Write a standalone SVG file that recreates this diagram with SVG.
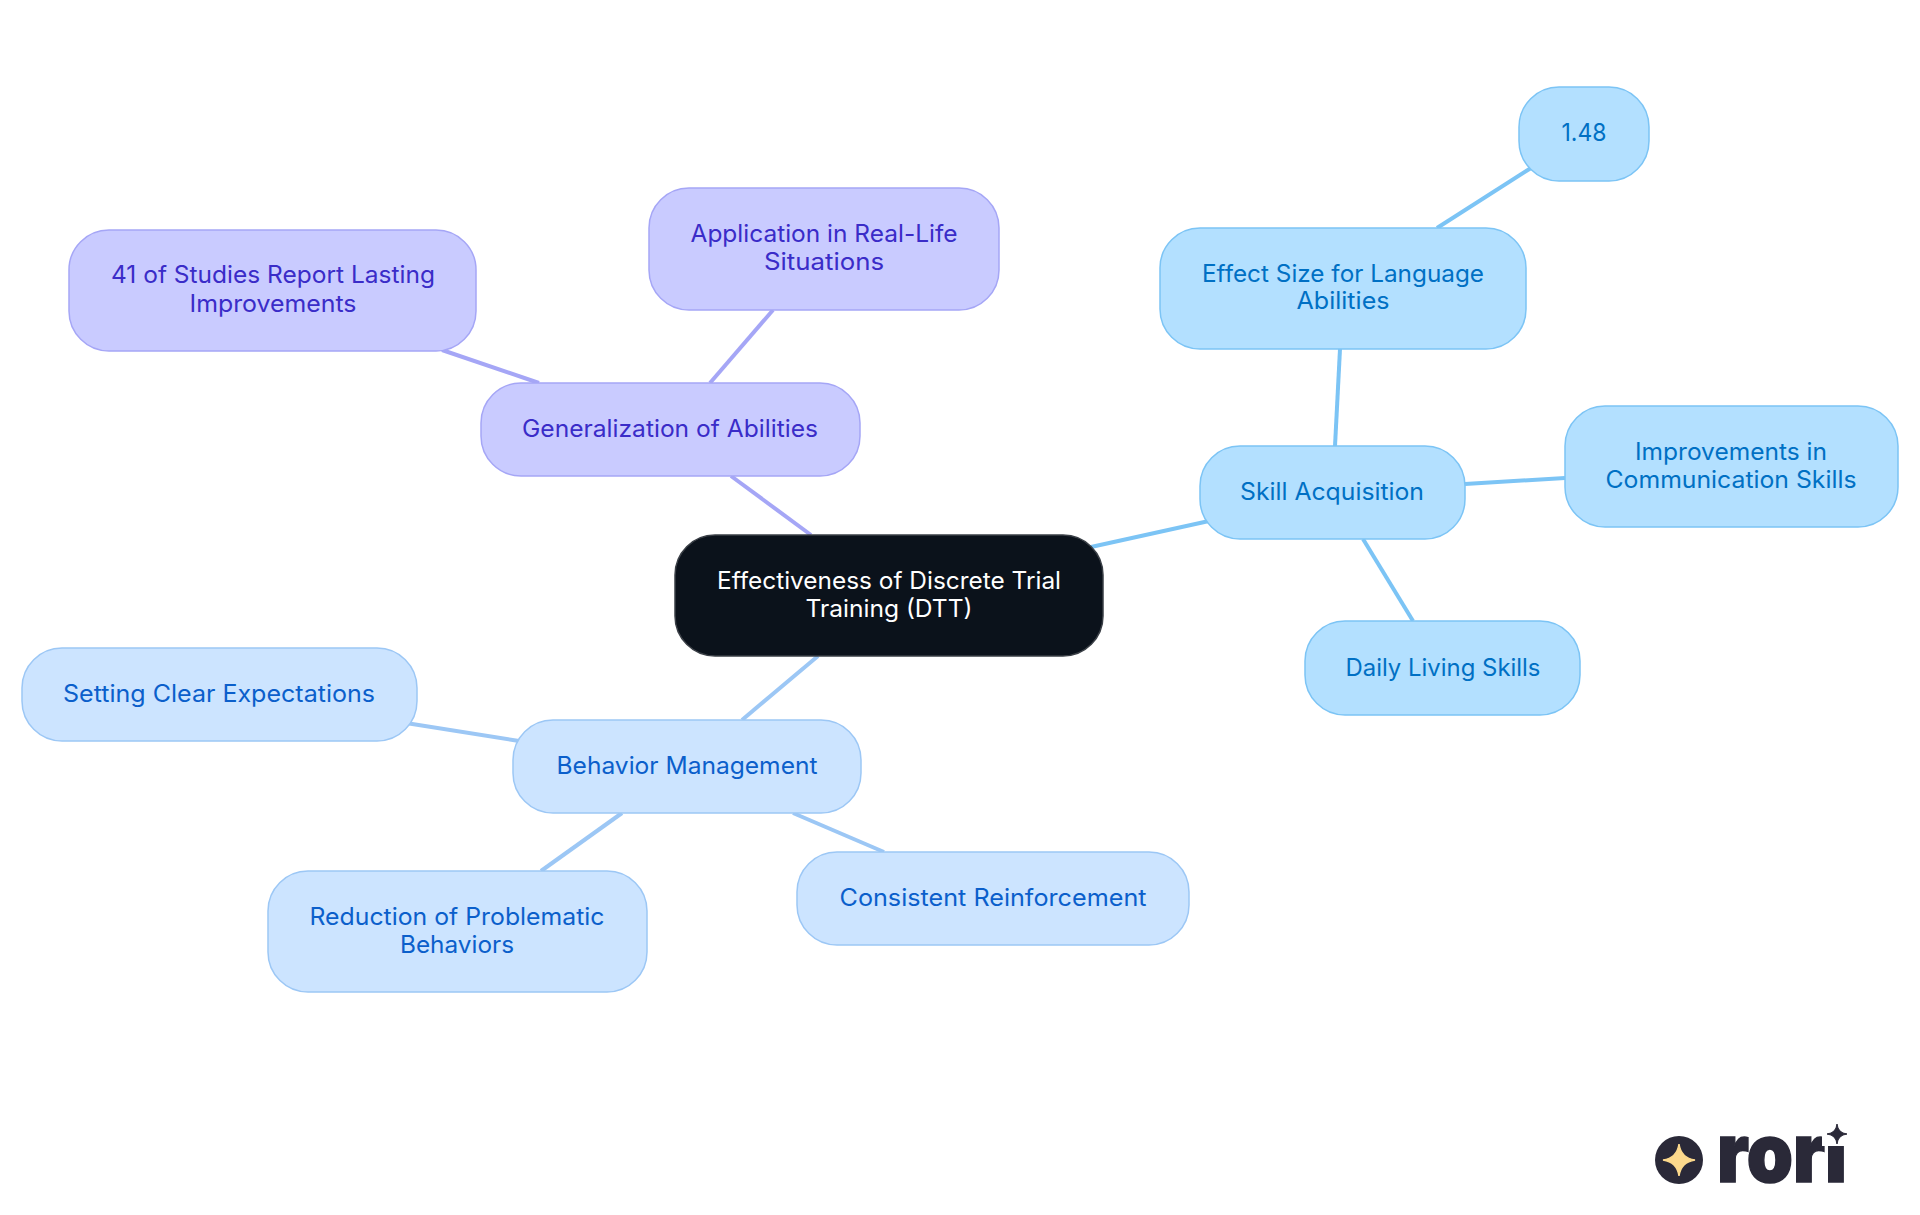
<svg xmlns="http://www.w3.org/2000/svg" width="1920" height="1215" viewBox="0 0 1920 1215">
<style>
text{font-family:"Inter","Noto Sans",sans-serif;font-size:24px;text-anchor:middle;font-weight:400}
.c line{fill:none;stroke-width:4;stroke-linecap:butt}
.p line{stroke:#a5a6f6}.b line{stroke:#9cc7f5}.s line{stroke:#7cc4f5}
rect{stroke-width:1.5}
.P rect{fill:#c9cbff;stroke:#a5a6f6}.P text{fill:#3a2cc8}
.B rect{fill:#cce4ff;stroke:#9cc7f5}.B text{fill:#0b5fcb}
.S rect{fill:#b3e0ff;stroke:#7cc4f5}.S text{fill:#0070c4}
</style>
<rect width="1920" height="1215" fill="#fff" style="stroke:none"/>
<g id="connectors" class="c">
<g class="p"><line x1="731" y1="476" x2="811" y2="535"/><line x1="710" y1="383" x2="773" y2="310"/><line x1="539" y1="383" x2="442" y2="350"/></g>
<g class="b"><line x1="818" y1="656" x2="742" y2="720"/><line x1="519" y1="741" x2="406" y2="723"/><line x1="622" y1="813" x2="541" y2="871"/><line x1="793" y1="813" x2="884" y2="852"/></g>
<g class="s"><line x1="1091" y1="547" x2="1209" y2="521"/><line x1="1335" y1="446" x2="1340" y2="349"/><line x1="1437" y1="228" x2="1531" y2="168"/><line x1="1465" y1="484" x2="1565" y2="478"/><line x1="1363" y1="539" x2="1413" y2="621"/></g>
</g>
<g id="root"><rect x="675" y="535" width="428" height="121" rx="40" fill="#0b121b" stroke="#3a3f46"/><text fill="#fff" x="889" y="589" textLength="344" lengthAdjust="spacingAndGlyphs">Effectiveness of Discrete Trial</text><text fill="#fff" x="889" y="617" textLength="167" lengthAdjust="spacingAndGlyphs">Training (DTT)</text></g>
<g id="generalization" class="P"><rect x="481" y="383" width="379" height="93" rx="40"/><text x="670" y="437" textLength="296" lengthAdjust="spacingAndGlyphs">Generalization of Abilities</text></g>
<g id="application" class="P"><rect x="649" y="188" width="350" height="122" rx="40"/><text x="824" y="242" textLength="267" lengthAdjust="spacingAndGlyphs">Application in Real-Life</text><text x="824" y="270" textLength="120" lengthAdjust="spacingAndGlyphs">Situations</text></g>
<g id="lasting" class="P"><rect x="69" y="230" width="407" height="121" rx="40"/><text x="273" y="283" textLength="324" lengthAdjust="spacingAndGlyphs">41 of Studies Report Lasting</text><text x="273" y="312" textLength="167" lengthAdjust="spacingAndGlyphs">Improvements</text></g>
<g id="behavior" class="B"><rect x="513" y="720" width="348" height="93" rx="40"/><text x="687" y="774" textLength="261" lengthAdjust="spacingAndGlyphs">Behavior Management</text></g>
<g id="expectations" class="B"><rect x="22" y="648" width="395" height="93" rx="40"/><text x="219" y="702" textLength="312" lengthAdjust="spacingAndGlyphs">Setting Clear Expectations</text></g>
<g id="reduction" class="B"><rect x="268" y="871" width="379" height="121" rx="40"/><text x="457" y="925" textLength="295" lengthAdjust="spacingAndGlyphs">Reduction of Problematic</text><text x="457" y="953" textLength="114" lengthAdjust="spacingAndGlyphs">Behaviors</text></g>
<g id="reinforcement" class="B"><rect x="797" y="852" width="392" height="93" rx="40"/><text x="993" y="906" textLength="307" lengthAdjust="spacingAndGlyphs">Consistent Reinforcement</text></g>
<g id="skill" class="S"><rect x="1200" y="446" width="265" height="93" rx="40"/><text x="1332" y="500" textLength="184" lengthAdjust="spacingAndGlyphs">Skill Acquisition</text></g>
<g id="effect" class="S"><rect x="1160" y="228" width="366" height="121" rx="40"/><text x="1343" y="282" textLength="282" lengthAdjust="spacingAndGlyphs">Effect Size for Language</text><text x="1343" y="309" textLength="93" lengthAdjust="spacingAndGlyphs">Abilities</text></g>
<g id="value" class="S"><rect x="1519" y="87" width="130" height="94" rx="40"/><text x="1584" y="141" textLength="45" lengthAdjust="spacingAndGlyphs">1.48</text></g>
<g id="communication" class="S"><rect x="1565" y="406" width="333" height="121" rx="40"/><text x="1731" y="460" textLength="192" lengthAdjust="spacingAndGlyphs">Improvements in</text><text x="1731" y="488" textLength="251" lengthAdjust="spacingAndGlyphs">Communication Skills</text></g>
<g id="daily" class="S"><rect x="1305" y="621" width="275" height="94" rx="40"/><text x="1443" y="676" textLength="195" lengthAdjust="spacingAndGlyphs">Daily Living Skills</text></g>
<g id="logo">
<circle cx="1679" cy="1160" r="24" fill="#2a2938"/>
<path d="M1679 1144Q1681 1158 1695 1160Q1681 1162 1679 1176Q1677 1162 1663 1160Q1677 1158 1679 1144Z" fill="#fcd98c" stroke="#fcd98c" stroke-width="1.5"/>
<text x="1782" y="1182" textLength="130" lengthAdjust="spacingAndGlyphs" style="font-size:82px;font-weight:900" fill="#2a2938" stroke="#2a2938" stroke-width="1.5">rori</text>
<rect x="1822" y="1100" width="30" height="46" fill="#fff" style="stroke:none"/>
<path d="M1837 1124Q1838 1133 1847 1134Q1838 1135 1837 1144Q1836 1135 1827 1134Q1836 1133 1837 1124Z" fill="#2a2938" stroke="#2a2938"/>
</g>
</svg>
